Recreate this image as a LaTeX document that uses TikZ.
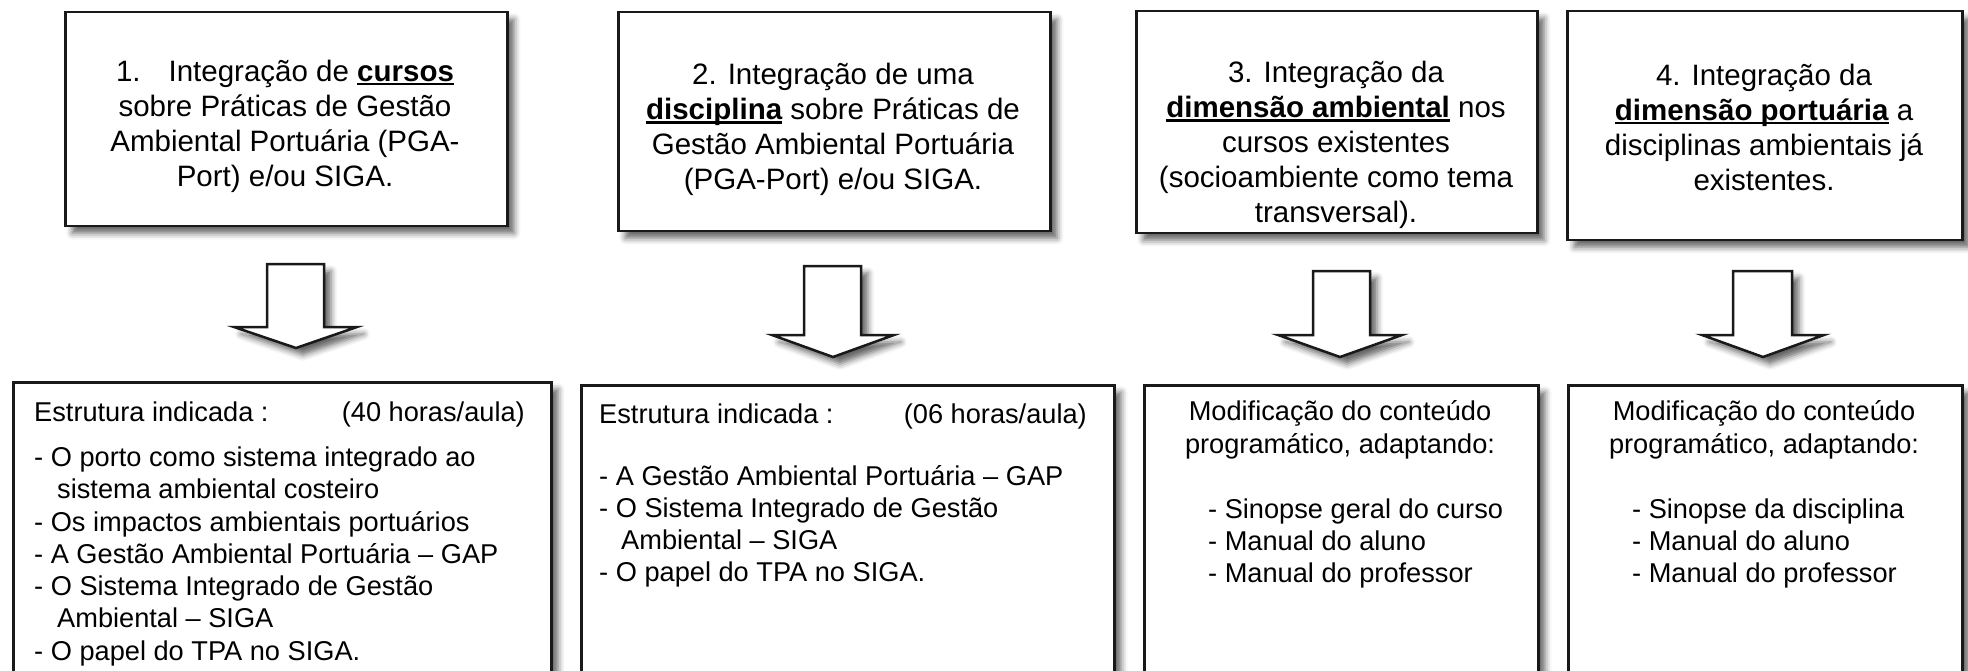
\documentclass[tikz,border=0pt]{standalone}
\usepackage{fontspec}
\setmainfont{Liberation Sans}
\usetikzlibrary{shadows.blur}
\newcommand{\kw}[1]{\setbox0\hbox{\bfseries #1}\rlap{\rule[-4pt]{\wd0}{2.2pt}}\box0\relax}
\begin{document}
\begin{tikzpicture}[x=1pt,y=-1pt,
  shd/.style={blur shadow={shadow xshift=7pt, shadow yshift=-7pt, shadow blur radius=6pt, shadow opacity=60}},
  box/.style={draw=black!90, line width=2.5pt, fill=white, shd, anchor=north west, inner sep=0pt},
  blockarrow/.style={draw=black!90, line width=2.5pt, fill=white, line join=miter, shd},
  toptext/.style={align=center, font=\fontsize{29.5}{35}\selectfont, inner sep=0pt},
  bt/.style={font=\fontsize{27.2}{32}\selectfont, inner sep=0pt, anchor=base west},
  btr/.style={bt, anchor=base east},
  btc/.style={bt, anchor=base}
]
\useasboundingbox (0,0) rectangle (1968,671);
\clip (0,0) rectangle (1968,671);

% top boxes
\node[box, minimum width=442pt, minimum height=214pt] (b1) at (64,11) {};
\node[box, minimum width=432pt, minimum height=219pt] (b2) at (617,11) {};
\node[box, minimum width=401pt, minimum height=222pt] (b3) at (1135,10) {};
\node[box, minimum width=395pt, minimum height=229pt] (b4) at (1566,10) {};

\node[toptext] (t1) at (285,126) {1.\hspace{28pt}Integração de \kw{cursos}\\ sobre Práticas de Gestão\\ Ambiental Portuária (PGA-\\ Port) e/ou SIGA.};
\node[toptext] (t2) at (833,129.5) {2. Integração de uma\\ \kw{disciplina} sobre Práticas de\\ Gestão Ambiental Portuária\\ (PGA-Port) e/ou SIGA.};
\node[toptext] (t3) at (1336,145) {3. Integração da\\ \kw{dimensão ambiental} nos\\ cursos existentes\\ (socioambiente como tema\\ transversal).};
\node[toptext] (t4) at (1764,127) {4. Integração da\\ \kw{dimensão portuária} a\\ disciplinas ambientais já\\ existentes.};

% block arrows
\draw[blockarrow] (267,264) -- (267,327) -- (234,327) -- (296,348) -- (357,327) -- (324,327) -- (324,264) -- cycle;
\draw[blockarrow] (804,266) -- (804,335) -- (772,335) -- (833,357) -- (894,335) -- (861,335) -- (861,266) -- cycle;
\draw[blockarrow] (1313,271) -- (1313,335) -- (1278,335) -- (1340,357) -- (1402,335) -- (1370,335) -- (1370,271) -- cycle;
\draw[blockarrow] (1733,271) -- (1733,335) -- (1702,335) -- (1763,357) -- (1824,335) -- (1792,335) -- (1792,271) -- cycle;

% bottom boxes
\node[box, minimum width=538pt, minimum height=320pt] (b5) at (12,381) {};
\node[box, minimum width=533pt, minimum height=320pt] (b6) at (580,384) {};
\node[box, minimum width=394pt, minimum height=320pt] (b7) at (1143,384) {};
\node[box, minimum width=394pt, minimum height=320pt] (b8) at (1567,384) {};

% box 5 text
\node[bt] (h5) at (34,421) {Estrutura indicada :};
\node[btr] (r5) at (525,421) {(40 horas/aula)};
\node[bt] (l51) at (34,466) {- O porto como sistema integrado ao};
\node[bt] (l52) at (57,498) {sistema ambiental costeiro};
\node[bt] (l53) at (34,531) {- Os impactos ambientais portuários};
\node[bt] (l54) at (34,563) {- A Gestão Ambiental Portuária \textendash{} GAP};
\node[bt] (l55) at (34,595) {- O Sistema Integrado de Gestão};
\node[bt] (l56) at (57,627) {Ambiental \textendash{} SIGA};
\node[bt] (l57) at (34,660) {- O papel do TPA no SIGA.};

% box 6 text
\node[bt] (h6) at (599,423) {Estrutura indicada :};
\node[btr] (r6) at (1087,423) {(06 horas/aula)};
\node[bt] (l61) at (599,485) {- A Gestão Ambiental Portuária \textendash{} GAP};
\node[bt] (l62) at (599,517) {- O Sistema Integrado de Gestão};
\node[bt] (l63) at (621,549) {Ambiental \textendash{} SIGA};
\node[bt] (l64) at (599,581) {- O papel do TPA no SIGA.};

% box 7 text
\node[btc] (h7a) at (1340,420) {Modificação do conteúdo};
\node[btc] (h7b) at (1340,453) {programático, adaptando:};
\node[bt] (l71) at (1208,518) {- Sinopse geral do curso};
\node[bt] (l72) at (1208,550) {- Manual do aluno};
\node[bt] (l73) at (1208,582) {- Manual do professor};

% box 8 text
\node[btc] (h8a) at (1764,420) {Modificação do conteúdo};
\node[btc] (h8b) at (1764,453) {programático, adaptando:};
\node[bt] (l81) at (1632,518) {- Sinopse da disciplina};
\node[bt] (l82) at (1632,550) {- Manual do aluno};
\node[bt] (l83) at (1632,582) {- Manual do professor};
\end{tikzpicture}
\end{document}
